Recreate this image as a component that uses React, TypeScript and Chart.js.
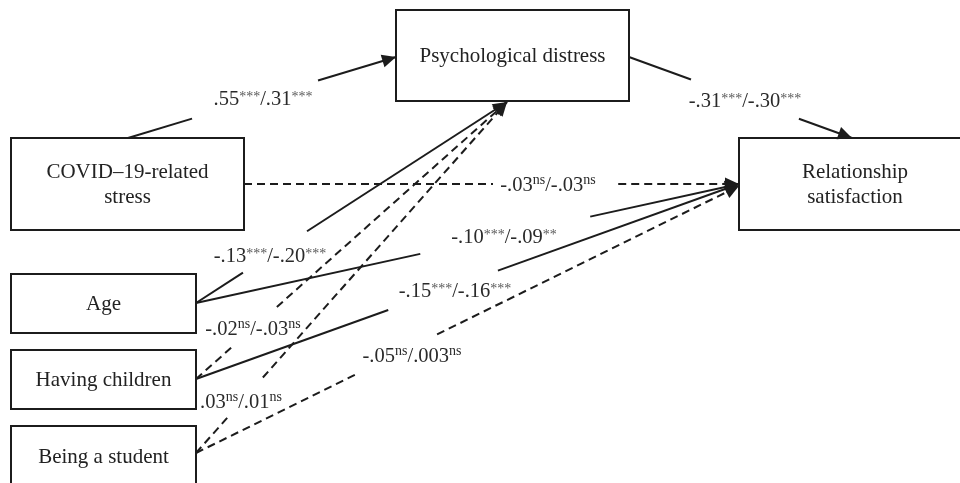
import React, { useEffect, useRef } from "react";
import { Chart, registerables } from "chart.js";

Chart.register(...registerables);

// ---------------- Data: variables and path coefficients (model 1 / model 2)
const variables = [
  "Psychological distress",
  "COVID–19-related\nstress",
  "Relationship\nsatisfaction",
  "Age",
  "Having children",
  "Being a student",
];
const pathFrom = [1, 0, 1, 3, 3, 4, 4, 5, 5];
const pathTo = [0, 2, 2, 0, 2, 0, 2, 0, 2];
const coefModel1 = [".55", "-.31", "-.03", "-.13", "-.10", "-.02", "-.15", ".03", "-.05"];
const sigModel1 = ["***", "***", "ns", "***", "***", "ns", "***", "ns", "ns"];
const coefModel2 = [".31", "-.30", "-.03", "-.20", "-.09", "-.03", "-.16", ".01", ".003"];
const sigModel2 = ["***", "***", "ns", "***", "**", "ns", "***", "ns", "ns"];

// ---------------- Layout (diagram units = 960 x 483 plane)
const boxRects = [
  [396, 10, 629, 101],
  [11, 138, 244, 230],
  [739, 138, 971, 230],
  [11, 274, 196, 333],
  [11, 350, 196, 409],
  [11, 426, 196, 488],
];
const pathStart = [
  [128, 138], [629, 57], [244, 184], [196, 303], [196, 303],
  [196, 379], [196, 379], [196, 453], [196, 453],
];
const pathEnd = [
  [396, 57], [852, 138], [739, 184], [507, 102], [739, 184],
  [507, 102], [739, 184], [507, 102], [739, 186],
];
const gapStart = [0.239, 0.278, 0.503, 0.151, 0.413, 0.116, 0.354, 0.109, 0.298];
const gapEnd = [0.709, 0.762, 0.756, 0.357, 0.726, 0.26, 0.556, 0.215, 0.444];
const labelPos = [
  [263, 98], [745, 100], [548, 184], [270, 255], [504, 236],
  [253, 328], [455, 290], [241, 401], [412, 355],
];

const INK = "#1c1c1c";
const FONT = '"Liberation Serif", "Times New Roman", serif';

function lerp(a: number[], b: number[], t: number) {
  return { x: a[0] + (b[0] - a[0]) * t, y: a[1] + (b[1] - a[1]) * t };
}

function buildDatasets() {
  const ds: any[] = [];
  pathFrom.forEach((_, i) => {
    const s = pathStart[i];
    const e = pathEnd[i];
    const dashed = sigModel1[i] === "ns";
    const common = {
      showLine: true,
      pointRadius: 0,
      borderColor: INK,
      borderWidth: 2,
      borderDash: dashed ? [8, 5] : [],
      fill: false,
    };
    ds.push({ ...common, label: `p${i}a`, data: [{ x: s[0], y: s[1] }, lerp(s, e, gapStart[i])] });
    ds.push({ ...common, label: `p${i}b`, data: [lerp(s, e, gapEnd[i]), { x: e[0], y: e[1] }] });
  });
  return ds;
}

function drawCoef(ctx: CanvasRenderingContext2D, cx: number, cy: number, i: number) {
  const parts: [string, boolean][] = [
    [coefModel1[i], false],
    [sigModel1[i], true],
    ["/", false],
    [coefModel2[i], false],
    [sigModel2[i], true],
  ];
  const mainFont = `20.5px ${FONT}`;
  const supFont = `14px ${FONT}`;
  let total = 0;
  const widths = parts.map(([t, sup]) => {
    ctx.font = sup ? supFont : mainFont;
    const w = ctx.measureText(t).width;
    total += w;
    return w;
  });
  let xx = cx - total / 2;
  const base = cy + 7;
  ctx.textAlign = "left";
  ctx.textBaseline = "alphabetic";
  parts.forEach(([t, sup], k) => {
    if (sup) {
      ctx.font = supFont;
      const isStar = t.indexOf("*") >= 0;
      ctx.fillStyle = isStar ? "#5a5a5a" : "#2a2a2a";
      ctx.fillText(t, xx, base - (isStar ? 4.5 : 7.5));
    } else {
      ctx.font = mainFont;
      ctx.fillStyle = "#2a2a2a";
      ctx.fillText(t, xx, base);
    }
    xx += widths[k];
  });
}

const diagramPlugin = {
  id: "pathDiagram",
  afterDatasetsDraw(chart: any) {
    const { ctx, scales } = chart;
    const xs = scales.x;
    const ys = scales.y;
    const px = (v: number) => xs.getPixelForValue(v);
    const py = (v: number) => ys.getPixelForValue(v);
    ctx.save();
    // boxes
    ctx.lineWidth = 2;
    ctx.strokeStyle = INK;
    ctx.setLineDash([]);
    boxRects.forEach((b, i) => {
      const x0 = px(b[0]);
      const y0 = py(b[1]);
      const x1 = px(b[2]);
      const y1 = py(b[3]);
      ctx.strokeRect(x0, y0, x1 - x0, y1 - y0);
      const lines = variables[i].split("\n");
      ctx.font = `21px ${FONT}`;
      ctx.fillStyle = "#222";
      ctx.textAlign = "center";
      ctx.textBaseline = "middle";
      const cx = (x0 + x1) / 2;
      const cy = b[3] > 483 ? py(456) : (y0 + y1) / 2;
      const lh = 25;
      lines.forEach((ln, k) => {
        ctx.fillText(ln, cx, cy + (k - (lines.length - 1) / 2) * lh + 1);
      });
    });
    // arrowheads
    ctx.fillStyle = INK;
    pathEnd.forEach((e, i) => {
      const s = pathStart[i];
      const ex = px(e[0]);
      const ey = py(e[1]);
      const sx = px(s[0]);
      const sy = py(s[1]);
      const ang = Math.atan2(ey - sy, ex - sx);
      const L = 14;
      const W = 6.5;
      const bx = ex - L * Math.cos(ang);
      const by = ey - L * Math.sin(ang);
      ctx.beginPath();
      ctx.moveTo(ex, ey);
      ctx.lineTo(bx + W * Math.sin(ang), by - W * Math.cos(ang));
      ctx.lineTo(bx - W * Math.sin(ang), by + W * Math.cos(ang));
      ctx.closePath();
      ctx.fill();
    });
    // coefficient labels
    labelPos.forEach((p, i) => drawCoef(ctx, px(p[0]), py(p[1]), i));
    ctx.restore();
  },
};

export default function App() {
  const ref = useRef<HTMLCanvasElement>(null);
  useEffect(() => {
    if (!ref.current) return;
    const chart = new Chart(ref.current, {
      type: "scatter",
      data: { datasets: buildDatasets() },
      options: {
        animation: false,
        responsive: false,
        maintainAspectRatio: false,
        layout: { padding: 0 },
        events: [],
        scales: {
          x: { type: "linear", min: 0, max: 960, display: false },
          y: { type: "linear", min: 0, max: 483, reverse: true, display: false },
        },
        plugins: {
          legend: { display: false },
          tooltip: { enabled: false },
        },
      },
      plugins: [diagramPlugin],
    } as any);
    return () => chart.destroy();
  }, []);
  return (
    <div style={{ position: "fixed", left: 0, top: 0, width: 960, height: 483, background: "#fff" }}>
      <canvas ref={ref} width={960} height={483} style={{ display: "block", width: 960, height: 483 }} />
    </div>
  );
}
